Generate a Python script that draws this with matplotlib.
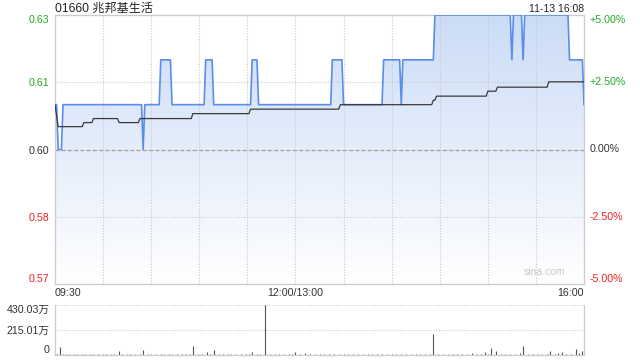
import numpy as np
import matplotlib
matplotlib.use("Agg")
import matplotlib.pyplot as plt
import matplotlib.transforms as mtrans
from matplotlib.colors import LinearSegmentedColormap

plt.rcParams["font.family"] = ["Liberation Sans", "Noto Sans CJK SC", "DejaVu Sans"]

# ── data (minutes after 09:30, lunch break removed) ──
PREV_CLOSE = 0.60
price_min = [0, 1, 2, 4, 5, 54, 55, 56, 65, 66, 72, 73, 93, 94, 98, 99, 122, 123, 126, 127,
             172, 173, 179, 180, 204, 205, 215, 216, 217, 236, 237, 284, 285, 286, 291, 292,
             293, 320, 321, 329, 330]
price_val = [0.61, 0.61, 0.60, 0.60, 0.61, 0.61, 0.60, 0.61, 0.61, 0.62, 0.62, 0.61, 0.61, 0.62,
             0.62, 0.61, 0.61, 0.62, 0.62, 0.61, 0.61, 0.62, 0.62, 0.61, 0.61, 0.62, 0.62, 0.61,
             0.62, 0.62, 0.63, 0.63, 0.62, 0.63, 0.63, 0.62, 0.63, 0.63, 0.62, 0.62, 0.61]

avg_min = [0, 2, 17, 18, 23, 24, 39, 40, 52, 53, 85, 86, 121, 122, 177, 178, 235, 236, 237,
           238, 269, 270, 275, 276, 307, 308, 330]
avg_val = [0.6100, 0.6051, 0.6051, 0.6060, 0.6060, 0.6069, 0.6069, 0.6060, 0.6060, 0.6069,
           0.6069, 0.6080, 0.6080, 0.6090, 0.6090, 0.6100, 0.6100, 0.6110, 0.6110, 0.6119,
           0.6119, 0.6130, 0.6130, 0.6139, 0.6139, 0.6151, 0.6151]

# volume in 万 shares
vol_min = [0, 1, 3, 5, 7, 9, 12, 14, 17, 19, 22, 24, 27, 30, 32, 35, 37, 40, 42, 45, 47, 50,
           53, 55, 58, 60, 63, 66, 68, 71, 73, 76, 79, 82, 84, 86, 89, 92, 95, 97, 99, 102,
           105, 108, 110, 113, 116, 119, 121, 123, 126, 128, 131, 134, 137, 140, 143, 146,
           148, 150, 153, 156, 159, 162, 165, 168, 171, 174, 177, 180, 183, 186, 189, 192,
           195, 198, 201, 204, 207, 210, 213, 216, 219, 222, 225, 228, 231, 234, 236, 239,
           242, 245, 248, 251, 254, 257, 260, 263, 266, 268, 270, 272, 275, 278, 281, 284,
           287, 290, 292, 295, 298, 301, 304, 307, 309, 312, 314, 316, 319, 322, 325, 327,
           329, 330]
vol_wan = [12, 8, 71, 9, 6, 10, 7, 9, 6, 8, 10, 7, 9, 6, 11, 8, 7, 34, 9, 6, 10, 8, 12,
           46, 7, 9, 6, 11, 8, 7, 10, 6, 9, 8, 12, 78, 7, 9, 28, 10, 45, 8, 6, 9, 7, 11, 8,
           6, 10, 24, 7, 9, 430.03, 8, 6, 10, 7, 9, 8, 24, 6, 20, 9, 7, 8, 6, 10, 7, 9, 8,
           6, 11, 7, 8, 9, 6, 10, 8, 7, 9, 6, 11, 8, 7, 10, 9, 6, 8, 180, 10, 7, 9, 6, 11,
           8, 7, 18, 9, 12, 25, 8, 62, 36, 9, 12, 7, 10, 14, 78, 8, 11, 9, 7, 12, 36, 10,
           14, 26, 9, 12, 50, 15, 32, 10]

left_ticks = [0.57, 0.585, 0.60, 0.615, 0.63]
left_labels = ["0.57", "0.58", "0.60", "0.61", "0.63"]
right_labels = ["-5.00%", "-2.50%", "0.00%", "+2.50%", "+5.00%"]
x_ticks = [0, 150, 330]
x_labels = ["09:30", "12:00/13:00", "16:00"]
vol_ticks = [0, 215.01, 430.03]
vol_labels = ["0", "215.01万", "430.03万"]

GREEN = "#22aa22"
RED = "#f02020"
DARK = "#333333"
FRAME = "#cccccc"
FS = 7.7

fig = plt.figure(figsize=(6.4, 3.6), dpi=100, facecolor="white")
ax = fig.add_axes([55 / 640, 1 - 284 / 360, 529 / 640, 269 / 360])
axv = fig.add_axes([55 / 640, 1 - 355 / 360, 529 / 640, 50 / 360])

# ── price panel ──
fill = ax.fill_between(price_min, price_val, 0.57, color="none", linewidth=0)
cmap = LinearSegmentedColormap.from_list("g", ["#ffffff", "#cbdcf7"])
grad = np.linspace(0, 1, 256).reshape(-1, 1)
im = ax.imshow(grad, extent=[0, 330, 0.57, 0.63], origin="lower", aspect="auto",
               cmap=cmap, zorder=1)
im.set_clip_path(fill.get_paths()[0], transform=ax.transData)
ax.plot(price_min, price_val, color="#5a8ee8", linewidth=1.2, zorder=3)
ax.plot(avg_min, avg_val, color="#3a3a3a", linewidth=0.9, zorder=4)

ax.set_xlim(0, 330)
ax.set_ylim(0.57, 0.63)
ax.set_xticks(range(0, 331, 30))
ax.set_xticklabels([])
ax.set_yticks(left_ticks)
ax.set_yticklabels(left_labels)
ax.tick_params(length=0, labelsize=FS, pad=4)
ax.grid(True, color="#c8c8c8", linestyle=(0, (1, 1.5)), linewidth=0.8)
ax.axhline(PREV_CLOSE, color="#a0a0a0", linestyle=(0, (3, 2)), linewidth=0.9, zorder=2)
for s in ax.spines.values():
    s.set_color(FRAME)
    s.set_linewidth(0.9)

label_colors = [RED, RED, DARK, GREEN, GREEN]
for lab, c, i in zip(ax.get_yticklabels(), label_colors, range(5)):
    lab.set_color(c)
    if i == 0:
        lab.set_va("bottom")
    elif i == 4:
        lab.set_va("top")

for i, (v, txt) in enumerate(zip(left_ticks, right_labels)):
    va = "bottom" if i == 0 else ("top" if i == 4 else "center")
    ax.text(1.011, v, txt, transform=ax.get_yaxis_transform(), ha="left", va=va,
            fontsize=FS, color=label_colors[i])

xt = mtrans.blended_transform_factory(ax.transData, ax.transAxes)
for v, txt, ha in zip(x_ticks, x_labels, ["left", "center", "right"]):
    ax.text(v, -0.034, txt, transform=xt, ha=ha, va="center", fontsize=FS, color=DARK)

# header sits in the 15 px strip above the chart
ax.text(0, 1 + 6.5 / 269, "01660 兆邦基生活", transform=ax.transAxes, ha="left",
        va="center", fontsize=8.7, color="#222222")
ax.text(1, 1 + 6.5 / 269, "11-13 16:08", transform=ax.transAxes, ha="right",
        va="center", fontsize=7.5, color="#222222")
ax.text(0.965, 0.025, "sina.com", transform=ax.transAxes, ha="right", va="bottom",
        fontsize=7.5, color="#c8c8c8")

# ── volume panel ──
axv.vlines(vol_min, 0, vol_wan, color="#555555", linewidth=0.8)
axv.set_xlim(0, 330)
axv.set_ylim(0, 430.03)
axv.set_xticks([])
axv.set_yticks(vol_ticks)
axv.set_yticklabels(vol_labels)
axv.tick_params(length=0, labelsize=FS, pad=4, labelcolor=DARK)
axv.grid(True, axis="y", color="#c8c8c8", linestyle=(0, (1, 1.5)), linewidth=0.8)
vl = axv.get_yticklabels()
vl[0].set_va("bottom")
vl[2].set_va("top")
for name, s in axv.spines.items():
    s.set_color(FRAME)
    s.set_linewidth(0.9)
axv.spines["top"].set_visible(False)

fig.savefig("out.png", dpi=100, facecolor="white")
